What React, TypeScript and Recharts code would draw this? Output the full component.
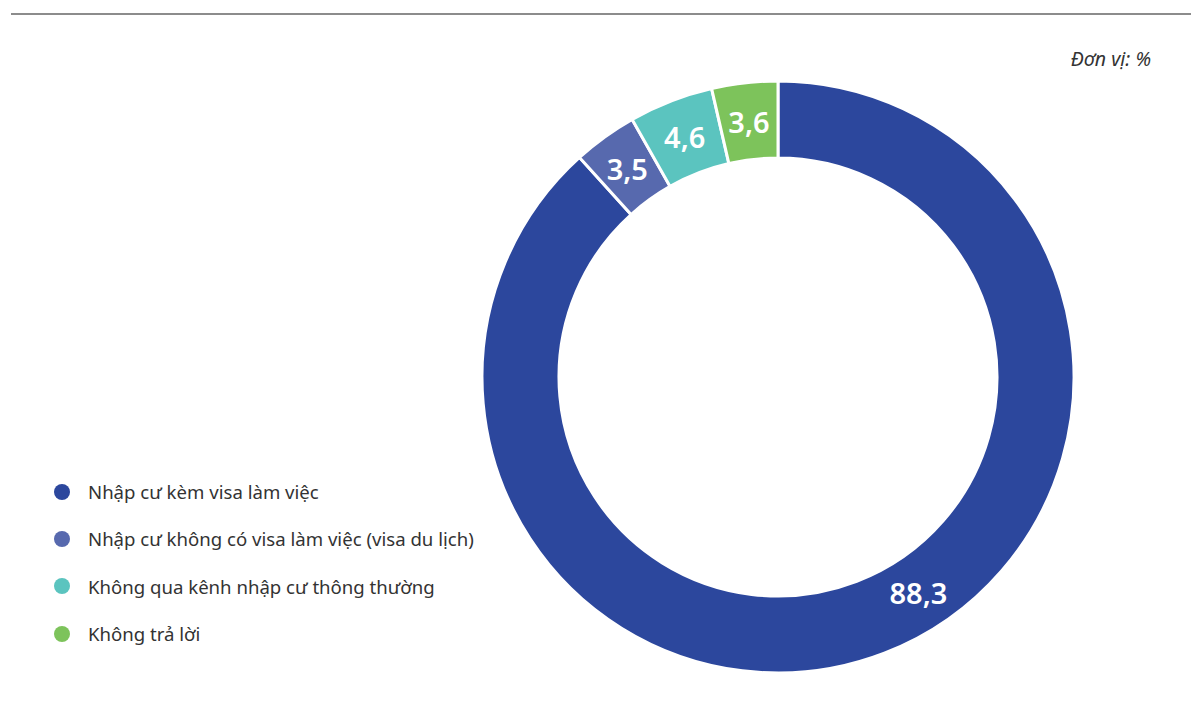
import { PieChart, Pie, Cell } from "recharts";

const categories = [
  "Nhập cư kèm visa làm việc",
  "Nhập cư không có visa làm việc (visa du lịch)",
  "Không qua kênh nhập cư thông thường",
  "Không trả lời",
];
const shares = [88.3, 3.5, 4.6, 3.6];
const colors = ["#2c479d", "#5769ae", "#5bc4bf", "#7dc35b"];

const data = categories.map((name, i) => ({ name, value: shares[i] }));

const RAD = Math.PI / 180;

function renderLabel(props: any) {
  const { cx, cy, midAngle, innerRadius, outerRadius, value, percent } = props;
  const r = (innerRadius + outerRadius) / 2;
  // the big slice label sits a bit ahead of its middle, as in the source
  const angle = percent > 0.5 ? midAngle + 12 : midAngle;
  const x = cx + r * Math.cos(-angle * RAD);
  const y = cy + r * Math.sin(-angle * RAD);
  return (
    <text
      x={x}
      y={y}
      fill="#ffffff"
      textAnchor="middle"
      dominantBaseline="central"
      fontSize={29}
      fontWeight={600}
      fontFamily="'Noto Sans', 'Open Sans', sans-serif"
    >
      {String(value).replace(".", ",")}
    </text>
  );
}

export default function App() {
  return (
    <div
      style={{
        position: "absolute",
        top: 0,
        left: 0,
        width: 1198,
        height: 702,
        background: "#ffffff",
        fontFamily: "'Noto Sans', 'Open Sans', sans-serif",
        overflow: "hidden",
      }}
    >
      <div
        style={{
          position: "absolute",
          top: 13,
          left: 11,
          width: 1180,
          height: 2,
          background: "#8c8c8c",
        }}
      />
      <div
        style={{
          position: "absolute",
          top: 45,
          right: 47,
          fontSize: 19.5,
          fontStyle: "italic",
          color: "#333333",
        }}
      >
        Đơn vị: %
      </div>
      <PieChart
        width={1198}
        height={702}
        margin={{ top: 0, right: 0, bottom: 0, left: 0 }}
      >
        <Pie
          data={data}
          dataKey="value"
          nameKey="name"
          cx={778}
          cy={377}
          innerRadius={219}
          outerRadius={296}
          startAngle={90}
          endAngle={-270}
          stroke="#ffffff"
          strokeWidth={3}
          label={renderLabel}
          labelLine={false}
          isAnimationActive={false}
        >
          {data.map((d, i) => (
            <Cell key={d.name} fill={colors[i]} />
          ))}
        </Pie>
      </PieChart>
      <div style={{ position: "absolute", left: 54, top: 478 }}>
        {categories.map((c, i) => (
          <div
            key={c}
            style={{
              display: "flex",
              alignItems: "center",
              height: 47.3,
              marginTop: -10,
              marginBottom: 10,
            }}
          >
            <span
              style={{
                width: 16,
                height: 16,
                borderRadius: "50%",
                background: colors[i],
                display: "inline-block",
                marginRight: 18,
              }}
            />
            <span style={{ fontSize: 18.6, color: "#333333" }}>{c}</span>
          </div>
        ))}
      </div>
    </div>
  );
}
